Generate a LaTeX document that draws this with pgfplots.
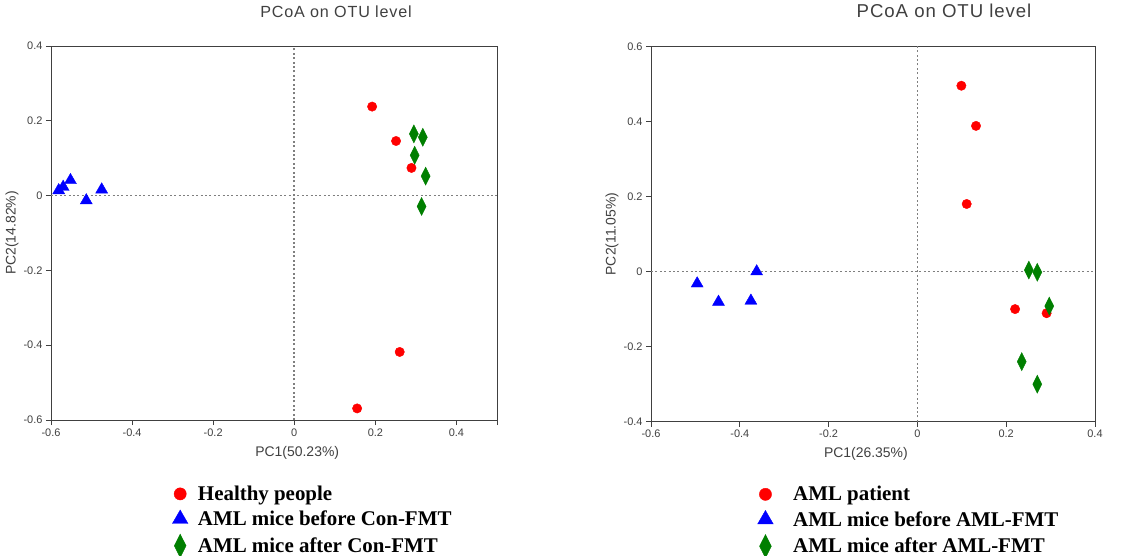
\documentclass[border=0pt]{standalone}
\usepackage{pgfplots}
\pgfplotsset{compat=1.18}
\usepackage{fontspec}
\setmainfont{Liberation Sans}
\newfontfamily\legfont{Liberation Serif}
\newfontfamily\titlefont[LetterSpace=5]{Liberation Sans}
\definecolor{axgray}{HTML}{404040}
\definecolor{dotgray}{HTML}{7F7F7F}
\definecolor{mgreen}{HTML}{007F00}

\pgfplotsset{
  pcoa/.style={
    scale only axis, anchor=south west,
    axis line style={axgray, line width=0.8pt},
    tick style={axgray, line width=0.8pt},
    tick align=outside, major tick length=5bp,
    xtick pos=bottom, ytick pos=left,
    ticklabel style={font=\fontsize{11}{13}\selectfont, text=axgray},
    /pgf/number format/assume math mode=true,
    label style={font=\fontsize{14}{16}\selectfont, text=axgray},
    every axis title shift=0pt,
    title style={text=axgray, anchor=center},
    legend style={draw=none, fill=none, anchor=north west,
      font=\legfont\bfseries\fontsize{21}{23}\selectfont, row sep=5bp},
    legend cell align=left,
    clip=false,
  },
  legend gap/.style={
    legend image code/.code={
      \draw[##1, every mark/.append style={scale=1.3}] plot coordinates {(0.3cm,0cm)};
      \path (0cm,0cm) (#1,0cm);}},
  zero/.style={dotgray, line width=1.6bp, dash pattern=on 2bp off 2.4bp, forget plot},
  red pts/.style={only marks, mark=*, mark size=4.7bp, color=red},
  blue pts/.style={only marks, mark=triangle*, mark size=6.9bp, color=blue},
  green pts/.style={only marks, mark=diamond*, mark size=9bp, color=mgreen,
    mark options={xscale=0.67}},
}

\begin{document}
\begin{tikzpicture}
\useasboundingbox (0,0) rectangle (1131bp,-556bp);

% left panel
\begin{axis}[pcoa, legend gap=0.85cm,
  at={(51bp,-420bp)}, width=446bp, height=374bp,
  xmin=-0.6, xmax=0.5, ymin=-0.6, ymax=0.4,
  xtick={-0.6,-0.4,-0.2,0,0.2,0.4}, ytick={-0.6,-0.4,-0.2,0,0.2,0.4},
  extra x ticks={0.5}, extra x tick labels={},
  title={PCoA on OTU level},
  title style={at={(axis description cs:0.639,1.091)}, font=\titlefont\fontsize{16.2}{18}\selectfont},
  xlabel={PC1(50.23\%)}, ylabel={PC2(14.82\%)},
  xlabel style={at={(axis description cs:0.552,-0.088)}, anchor=center},
  ylabel style={at={(axis description cs:-0.0874,0.5)}, anchor=center},
  legend style={at={(axis description cs:0.263,-0.165)}},
]
\addplot[zero] coordinates {(-0.6,0) (0.5,0)};
\addplot[zero] coordinates {(0,-0.6) (0,0.4)};
\addplot[red pts] coordinates {(0.192,0.238) (0.251,0.146) (0.289,0.074) (0.260,-0.418) (0.155,-0.569)};
\addplot[blue pts] coordinates {(-0.581,0.014) (-0.570,0.023) (-0.552,0.041) (-0.513,-0.013) (-0.475,0.016)};
\addplot[green pts] coordinates {(0.295,0.165) (0.317,0.156) (0.297,0.108) (0.324,0.052) (0.314,-0.029)};
\legend{Healthy people, AML mice before Con-FMT, AML mice after Con-FMT}
\end{axis}

% right panel
\begin{axis}[pcoa, legend gap=1.2cm,
  at={(651bp,-421.7bp)}, width=444bp, height=375.4bp,
  xmin=-0.6, xmax=0.4, ymin=-0.4, ymax=0.6,
  xtick={-0.6,-0.4,-0.2,0,0.2,0.4}, ytick={-0.4,-0.2,0,0.2,0.4,0.6},
  title={PCoA on OTU level},
  title style={at={(axis description cs:0.66,1.094)}, font=\titlefont\fontsize{18.7}{20}\selectfont},
  xlabel={PC1(26.35\%)}, ylabel={PC2(11.05\%)},
  xlabel style={at={(axis description cs:0.484,-0.087)}, anchor=center},
  ylabel style={at={(axis description cs:-0.0878,0.5)}, anchor=center},
  legend style={at={(axis description cs:0.231,-0.161)}},
]
\addplot[zero] coordinates {(-0.6,0) (0.4,0)};
\addplot[zero] coordinates {(0,-0.4) (0,0.6)};
\addplot[red pts] coordinates {(0.099,0.495) (0.132,0.388) (0.111,0.180) (0.220,-0.100) (0.291,-0.111)};
\addplot[blue pts] coordinates {(-0.496,-0.032) (-0.448,-0.081) (-0.375,-0.078) (-0.362,0.000)};
\addplot[green pts] coordinates {(0.251,0.004) (0.270,-0.002) (0.297,-0.092) (0.235,-0.240) (0.270,-0.300)};
\legend{AML patient, AML mice before AML-FMT, AML mice after AML-FMT}
\end{axis}
\end{tikzpicture}
\end{document}
